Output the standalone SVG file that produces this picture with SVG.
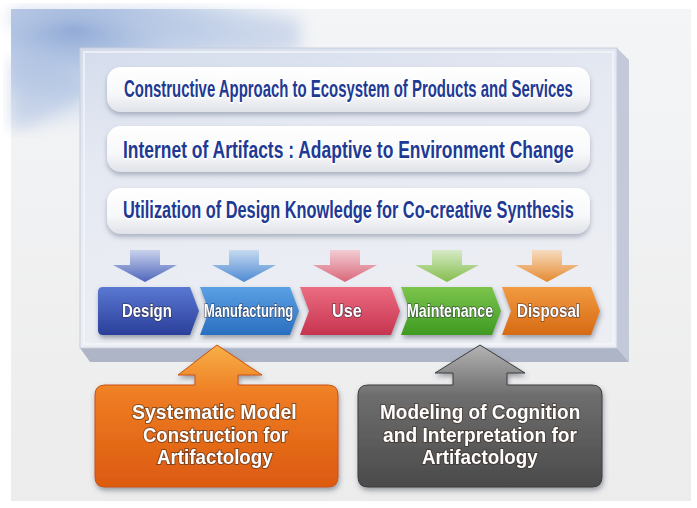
<svg xmlns="http://www.w3.org/2000/svg" width="697" height="508" viewBox="0 0 697 508">
<defs>
  <linearGradient id="bgG" x1="0" y1="0" x2="0" y2="1">
    <stop offset="0" stop-color="#f4f5f7"/>
    <stop offset="1" stop-color="#ececec"/>
  </linearGradient>
  <radialGradient id="swirl" cx="0.15" cy="0.1" r="0.6">
    <stop offset="0" stop-color="#8fa9d6"/>
    <stop offset="0.5" stop-color="#c4d3ea" stop-opacity="0.8"/>
    <stop offset="1" stop-color="#f3f5f8" stop-opacity="0"/>
  </radialGradient>
  <linearGradient id="panelG" x1="0" y1="0" x2="0.3" y2="1">
    <stop offset="0" stop-color="#d4dcec"/>
    <stop offset="0.35" stop-color="#e5e9f2"/>
    <stop offset="1" stop-color="#eceef3"/>
  </linearGradient>
  <linearGradient id="bandG" x1="0" y1="0" x2="0" y2="1">
    <stop offset="0" stop-color="#ffffff"/>
    <stop offset="0.6" stop-color="#f7f8fa"/>
    <stop offset="1" stop-color="#dfe2e8"/>
  </linearGradient>
  <filter id="sh" x="-10%" y="-30%" width="120%" height="170%">
    <feDropShadow dx="0" dy="3" stdDeviation="2.5" flood-color="#7a8296" flood-opacity="0.55"/>
  </filter>
  <filter id="sh2" x="-10%" y="-20%" width="120%" height="150%">
    <feDropShadow dx="1" dy="3" stdDeviation="2.5" flood-color="#40485a" flood-opacity="0.5"/>
  </filter>
  <filter id="blur8"><feGaussianBlur stdDeviation="8"/></filter>
  <linearGradient id="gDesign" x1="0" y1="0" x2="0" y2="1"><stop offset="0" stop-color="#5a78d2"/><stop offset="1" stop-color="#2a3f9a"/></linearGradient>
  <linearGradient id="gManu" x1="0" y1="0" x2="0" y2="1"><stop offset="0" stop-color="#5aa0e4"/><stop offset="1" stop-color="#2a6fc0"/></linearGradient>
  <linearGradient id="gUse" x1="0" y1="0" x2="0" y2="1"><stop offset="0" stop-color="#ec6c80"/><stop offset="1" stop-color="#c63450"/></linearGradient>
  <linearGradient id="gMaint" x1="0" y1="0" x2="0" y2="1"><stop offset="0" stop-color="#7cc44c"/><stop offset="1" stop-color="#3f9a22"/></linearGradient>
  <linearGradient id="gDisp" x1="0" y1="0" x2="0" y2="1"><stop offset="0" stop-color="#f29a40"/><stop offset="1" stop-color="#d66a14"/></linearGradient>
  <linearGradient id="aDesign" x1="0" y1="0" x2="0" y2="1"><stop offset="0" stop-color="#c9d2ec"/><stop offset="1" stop-color="#4e66bb"/></linearGradient>
  <linearGradient id="aManu" x1="0" y1="0" x2="0" y2="1"><stop offset="0" stop-color="#c6daf0"/><stop offset="1" stop-color="#4d8ad2"/></linearGradient>
  <linearGradient id="aUse" x1="0" y1="0" x2="0" y2="1"><stop offset="0" stop-color="#f2cdd3"/><stop offset="1" stop-color="#d9677a"/></linearGradient>
  <linearGradient id="aMaint" x1="0" y1="0" x2="0" y2="1"><stop offset="0" stop-color="#d7eac6"/><stop offset="1" stop-color="#84bd4c"/></linearGradient>
  <linearGradient id="aDisp" x1="0" y1="0" x2="0" y2="1"><stop offset="0" stop-color="#f6dcc0"/><stop offset="1" stop-color="#e58a30"/></linearGradient>
  <linearGradient id="gOrange" x1="0" y1="0" x2="0" y2="1"><stop offset="0" stop-color="#f7b048"/><stop offset="0.35" stop-color="#ee7c22"/><stop offset="1" stop-color="#dc5a10"/></linearGradient>
  <linearGradient id="gGray" x1="0" y1="0" x2="0" y2="1"><stop offset="0" stop-color="#b4b4b4"/><stop offset="0.35" stop-color="#6e6e6e"/><stop offset="1" stop-color="#4a4a4a"/></linearGradient>
  <style>
    .bt { font-family: "Liberation Sans Narrow", "Liberation Sans", sans-serif; font-weight: bold; font-size: 24px; fill: #1e3a94; stroke: #ffffff; stroke-width: 3px; paint-order: stroke; stroke-linejoin: round; }
    .ct { font-family: "Liberation Sans Narrow", "Liberation Sans", sans-serif; font-weight: bold; font-size: 18px; fill: #ffffff; stroke: #2a2a3a; stroke-width: 1.6px; paint-order: stroke; stroke-opacity: 0.6; }
    .lt { font-family: "Liberation Sans Narrow", "Liberation Sans", sans-serif; font-weight: bold; font-size: 20px; fill: #ffffff; stroke: #3a2a20; stroke-width: 2px; paint-order: stroke; stroke-opacity: 0.55; }
  </style>
</defs>

<!-- background -->
<rect x="0" y="0" width="697" height="508" fill="#ffffff"/>
<rect x="11" y="9" width="680" height="492" fill="url(#bgG)"/>
<rect x="11" y="9" width="420" height="200" fill="url(#swirl)"/>
<path d="M11 30 Q80 10 170 40 Q230 60 300 50 L300 20 Q200 5 11 9 Z" fill="#b7c8e4" opacity="0.6" filter="url(#blur8)"/>
<path d="M11 60 Q50 50 90 90 Q60 120 11 130 Z" fill="#a9bde0" opacity="0.5" filter="url(#blur8)"/>

<!-- main panel -->
<g id="panel">
  <polygon points="617,48 629,60 629,362 617,348" fill="#c3c9d8"/>
  <polygon points="80,348 617,348 629,362 90,362" fill="#aeb5c6"/>
  <rect x="80" y="48" width="537" height="300" fill="url(#panelG)" stroke="#c7cedc" stroke-width="1"/>
  <rect x="84" y="52" width="529" height="292" fill="none" stroke="#f4f6fa" stroke-width="2" opacity="0.7"/>
</g>

<!-- top bands -->
<g id="band1">
  <rect x="107" y="67" width="483" height="45" rx="14" fill="url(#bandG)" filter="url(#sh)"/>
  <text class="bt" transform="translate(124 97) scale(0.62 1)" textLength="724" lengthAdjust="spacingAndGlyphs">Constructive Approach to Ecosystem of Products and Services</text>
</g>
<g id="band2">
  <rect x="107" y="126" width="483" height="46" rx="14" fill="url(#bandG)" filter="url(#sh)"/>
  <text class="bt" transform="translate(123 158) scale(0.62 1)" textLength="727" lengthAdjust="spacingAndGlyphs">Internet of Artifacts : Adaptive to Environment Change</text>
</g>
<g id="band3">
  <rect x="107" y="188" width="483" height="46" rx="14" fill="url(#bandG)" filter="url(#sh)"/>
  <text class="bt" transform="translate(123 218) scale(0.62 1)" textLength="727" lengthAdjust="spacingAndGlyphs">Utilization of Design Knowledge for Co-creative Synthesis</text>
</g>

<!-- connectors: small down arrows and big up arrows -->
<g id="connectors">
  <path d="M130 250 H160 V265 H177 L145 282 L113 265 H130 Z" fill="url(#aDesign)"/>
  <path d="M229 250 H259 V265 H276 L244 282 L212 265 H229 Z" fill="url(#aManu)"/>
  <path d="M330 250 H360 V265 H377 L345 282 L313 265 H330 Z" fill="url(#aUse)"/>
  <path d="M432 250 H462 V265 H479 L447 282 L415 265 H432 Z" fill="url(#aMaint)"/>
  <path d="M532 250 H562 V265 H579 L547 282 L515 265 H532 Z" fill="url(#aDisp)"/>
</g>

<!-- lifecycle chevrons -->
<g id="design" filter="url(#sh2)">
  <path d="M103 287 H190 L199 311 L190 335 H103 Q98 335 98 330 V292 Q98 287 103 287 Z" fill="url(#gDesign)"/>
  <text class="ct" transform="translate(122 317) scale(0.83 1)" textLength="60" lengthAdjust="spacingAndGlyphs">Design</text>
</g>
<g id="manufacturing" filter="url(#sh2)">
  <path d="M200 287 H290 L299 311 L290 335 H200 L209 311 Z" fill="url(#gManu)"/>
  <text class="ct" transform="translate(204 317) scale(0.72 1)" textLength="124" lengthAdjust="spacingAndGlyphs">Manufacturing</text>
</g>
<g id="use" filter="url(#sh2)">
  <path d="M300 287 H391 L400 311 L391 335 H300 L309 311 Z" fill="url(#gUse)"/>
  <text class="ct" transform="translate(332 317) scale(0.9 1)" textLength="33" lengthAdjust="spacingAndGlyphs">Use</text>
</g>
<g id="maintenance" filter="url(#sh2)">
  <path d="M401 287 H492 L501 311 L492 335 H401 L410 311 Z" fill="url(#gMaint)"/>
  <text class="ct" transform="translate(407 317) scale(0.79 1)" textLength="109" lengthAdjust="spacingAndGlyphs">Maintenance</text>
</g>
<g id="disposal" filter="url(#sh2)">
  <path d="M502 287 H591 L600 311 L591 335 H502 L511 311 Z" fill="url(#gDisp)"/>
  <text class="ct" transform="translate(517 317) scale(0.84 1)" textLength="75" lengthAdjust="spacingAndGlyphs">Disposal</text>
</g>

<!-- bottom boxes with up arrows -->
<g id="systematic" filter="url(#sh2)">
  <path d="M217 345 L262 375 H238 V385 H328 Q338 385 338 395 V477 Q338 487 328 487 H105 Q95 487 95 477 V395 Q95 385 105 385 H195 V375 H178 Z" fill="url(#gOrange)" stroke="#c8520e" stroke-width="1"/>
  <text class="lt" transform="translate(132 419) scale(0.89 1)" textLength="185" lengthAdjust="spacingAndGlyphs">Systematic Model</text>
  <text class="lt" transform="translate(143 441.5) scale(0.89 1)" textLength="163" lengthAdjust="spacingAndGlyphs">Construction for</text>
  <text class="lt" transform="translate(157 464) scale(0.89 1)" textLength="130" lengthAdjust="spacingAndGlyphs">Artifactology</text>
</g>
<g id="modeling" filter="url(#sh2)">
  <path d="M480 345 L525 373 H507 V385 H592 Q602 385 602 395 V477 Q602 487 592 487 H368 Q358 487 358 477 V395 Q358 385 368 385 H453 V373 H435 Z" fill="url(#gGray)" stroke="#3c3c3c" stroke-width="1"/>
  <text class="lt" transform="translate(380 419) scale(0.89 1)" textLength="225" lengthAdjust="spacingAndGlyphs">Modeling of Cognition</text>
  <text class="lt" transform="translate(383 441.5) scale(0.89 1)" textLength="218" lengthAdjust="spacingAndGlyphs">and Interpretation for</text>
  <text class="lt" transform="translate(422 464) scale(0.89 1)" textLength="130" lengthAdjust="spacingAndGlyphs">Artifactology</text>
</g>
</svg>
